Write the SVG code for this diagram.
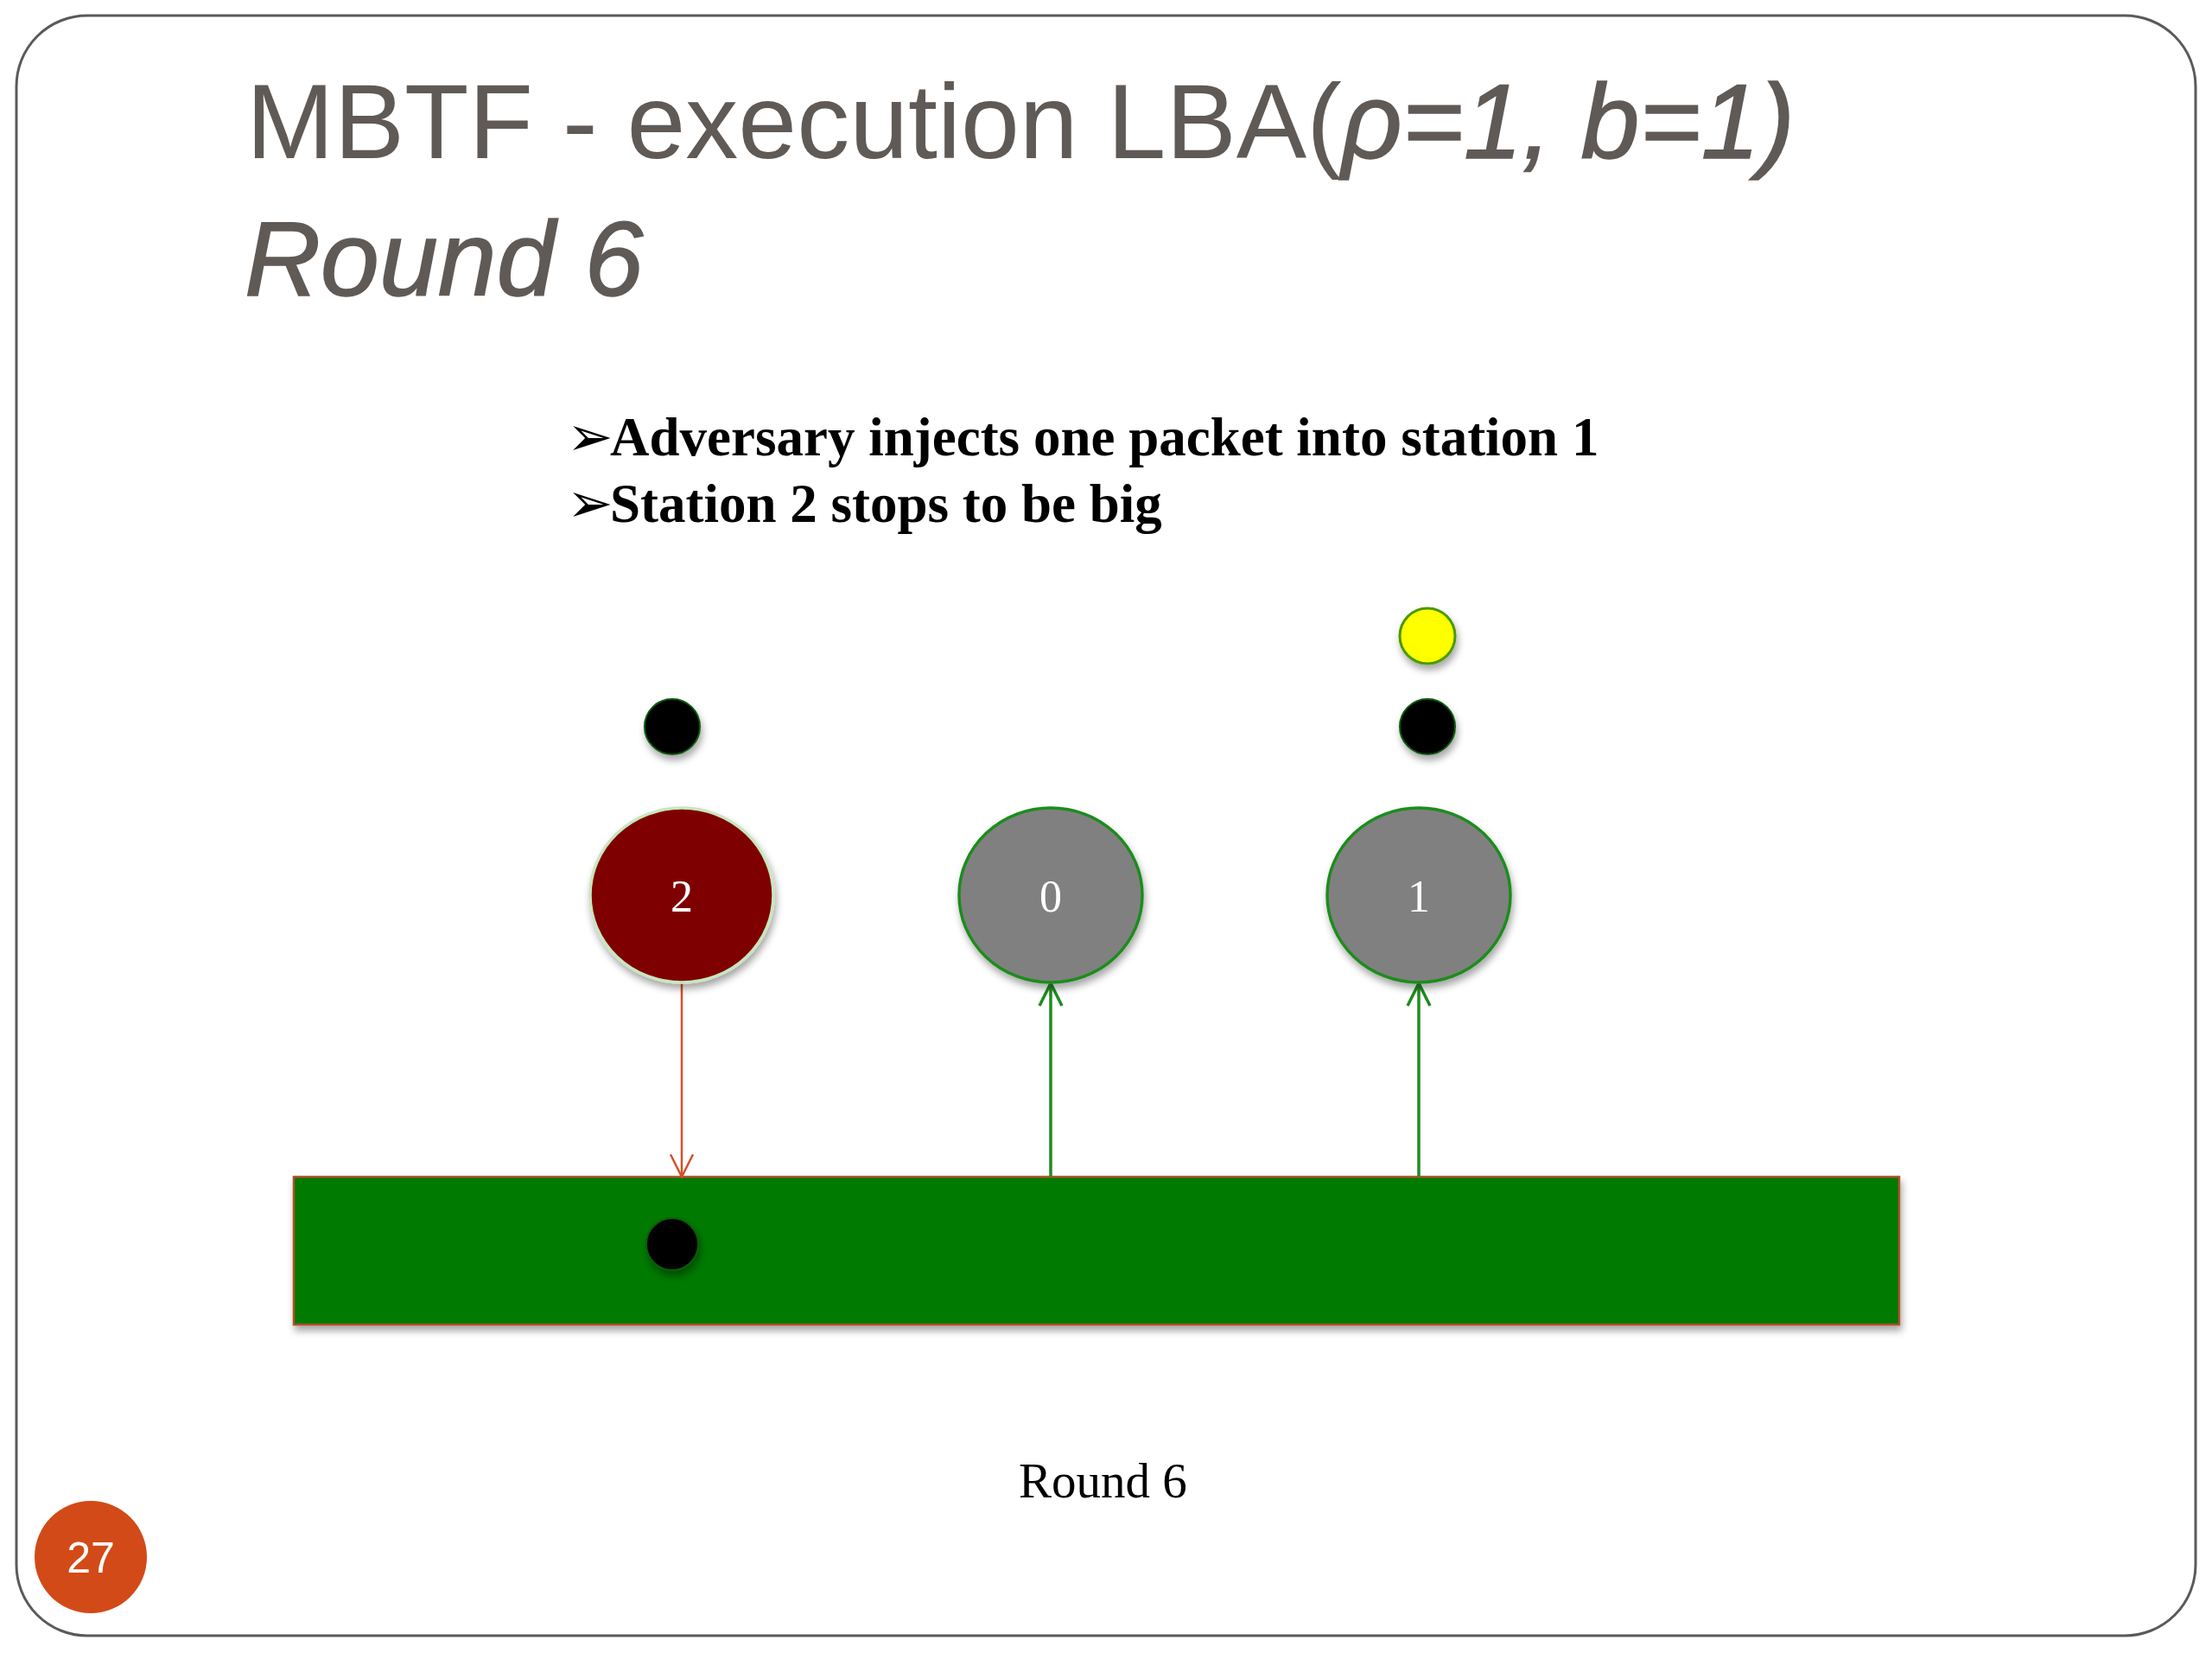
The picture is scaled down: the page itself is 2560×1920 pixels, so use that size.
<svg xmlns="http://www.w3.org/2000/svg" width="2560" height="1920" viewBox="0 0 2560 1920">
<style>
.title{font-family:"Liberation Sans",Arial,sans-serif;font-size:122px;fill:#605a57}
.it{font-style:italic;stroke:#605a57;stroke-width:1.5}
.bullet{font-family:"Liberation Serif","Times New Roman",serif;font-weight:bold;font-size:63px;fill:#000}
.sym{font-family:"DejaVu Sans",sans-serif;font-weight:normal;font-size:64px}
.num{font-family:"Liberation Serif","Times New Roman",serif;font-size:52px;fill:#fff;text-anchor:middle}
.station{stroke:#1e8c1e;stroke-width:3.5;fill:#808080}
.dot{fill:#000;stroke:#0a5a0a;stroke-width:2}
.conn-g{stroke:#1e8c1e;stroke-width:3.5;fill:none}
.conn-r{stroke:#d4502a;stroke-width:2.5;fill:none}
</style>
<defs>
<filter id="sh" x="-30%" y="-30%" width="160%" height="170%">
<feDropShadow dx="2" dy="6" stdDeviation="4" flood-color="#000" flood-opacity="0.35"/>
</filter>
<marker id="ag" viewBox="0 0 30 30" refX="28" refY="15" markerWidth="30" markerHeight="30" markerUnits="userSpaceOnUse" orient="auto">
<path d="M2,2 L28,15 L2,28" fill="none" stroke="#1e8c1e" stroke-width="3.5"/>
</marker>
<marker id="ar" viewBox="0 0 30 30" refX="28" refY="15" markerWidth="30" markerHeight="30" markerUnits="userSpaceOnUse" orient="auto">
<path d="M2,2 L28,15 L2,28" fill="none" stroke="#d4502a" stroke-width="2.5"/>
</marker>
</defs>
<rect width="2560" height="1920" fill="#fff"/>
<rect id="frame" x="19" y="18" width="2522" height="1875" rx="82" ry="82" fill="#fff" stroke="#5a5a5a" stroke-width="3"/>

<g id="title">
<text class="title" x="285" y="183">MBTF - execution LBA(<tspan class="it">ρ=1, b=1)</tspan></text>
<text class="title it" x="283" y="342">Round 6</text>
</g>

<g id="bullets">
<text class="bullet" x="656" y="527"><tspan class="sym">➢</tspan><tspan x="706">Adversary injects one packet into station 1</tspan></text>
<text class="bullet" x="656" y="604"><tspan class="sym">➢</tspan><tspan x="706">Station 2 stops to be big</tspan></text>
</g>

<g id="bus">
<rect x="340" y="1362" width="1858" height="171" fill="#017a01" stroke="#b0502a" stroke-width="2.5" filter="url(#sh)"/>
</g>

<g id="connectors">
<line class="conn-r" x1="789" y1="1138" x2="789" y2="1362" marker-end="url(#ar)"/>
<line class="conn-g" x1="1216" y1="1362" x2="1216" y2="1138" marker-end="url(#ag)"/>
<line class="conn-g" x1="1642" y1="1362" x2="1642" y2="1138" marker-end="url(#ag)"/>
</g>

<g id="station2">
<ellipse cx="789" cy="1036" rx="106" ry="101" fill="#7f0000" stroke="#c8e6c0" stroke-width="3.5" filter="url(#sh)"/>
<text class="num" x="789" y="1055">2</text>
</g>
<g id="station0">
<ellipse class="station" cx="1216" cy="1036" rx="106" ry="101" filter="url(#sh)"/>
<text class="num" x="1216" y="1055">0</text>
</g>
<g id="station1">
<ellipse class="station" cx="1642" cy="1036" rx="106" ry="101" filter="url(#sh)"/>
<text class="num" x="1642" y="1055">1</text>
</g>

<g id="packet-s2">
<ellipse class="dot" cx="778" cy="841" rx="32" ry="32" filter="url(#sh)"/>
</g>
<g id="packet-s1">
<ellipse class="dot" cx="1652" cy="841" rx="32" ry="32" filter="url(#sh)"/>
</g>
<g id="packet-new">
<ellipse cx="1652" cy="736" rx="32" ry="32" fill="#ffff00" stroke="#4c9a00" stroke-width="3" filter="url(#sh)"/>
</g>
<g id="packet-bus">
<ellipse class="dot" cx="778" cy="1440" rx="30" ry="30" filter="url(#sh)"/>
</g>

<g id="caption">
<text x="1179" y="1733" font-family="Liberation Serif,'Times New Roman',serif" font-size="57" fill="#000">Round 6</text>
</g>

<g id="page-number">
<circle cx="105" cy="1802" r="65" fill="#d24a17"/>
<text x="105" y="1820" font-family="Liberation Sans,Arial,sans-serif" font-size="50" fill="#fff" text-anchor="middle">27</text>
</g>
</svg>
